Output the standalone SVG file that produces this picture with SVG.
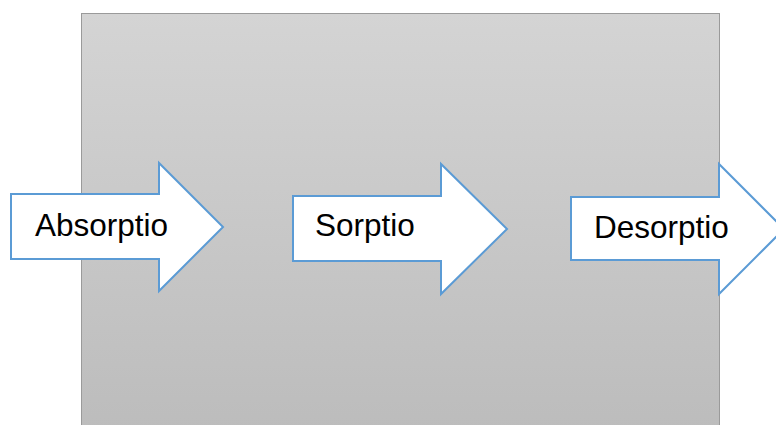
<svg xmlns="http://www.w3.org/2000/svg" width="776" height="425" viewBox="0 0 776 425">
<defs>
<linearGradient id="bg" x1="0" y1="0" x2="0" y2="1">
<stop offset="0" stop-color="#d4d4d4"/>
<stop offset="1" stop-color="#bcbcbc"/>
</linearGradient>
<style>
.arrow{fill:#ffffff;stroke:#5b9bd5;stroke-width:2;stroke-linejoin:miter}
.lbl{font-family:"Liberation Sans",Arial,sans-serif;font-size:31.5px;fill:#000000}
</style>
</defs>
<rect id="background" x="81.5" y="13.5" width="638" height="420" fill="url(#bg)" stroke="#9a9a9a" stroke-width="1"/>
<g id="connectors"/>
<g id="absorptio">
<polygon class="arrow" points="11,194 159,194 159,163 223,227 159,291 159,259 11,259"/>
<text class="lbl" x="35" y="236">Absorptio</text>
</g>
<g id="sorptio">
<polygon class="arrow" points="293,196 441,196 441,164 507,229 441,294 441,261 293,261"/>
<text class="lbl" x="315" y="236">Sorptio</text>
</g>
<g id="desorptio">
<polygon class="arrow" points="571,197 719,197 719,164 784,229 719,294 719,260 571,260"/>
<text class="lbl" x="594" y="238">Desorptio</text>
</g>
</svg>
